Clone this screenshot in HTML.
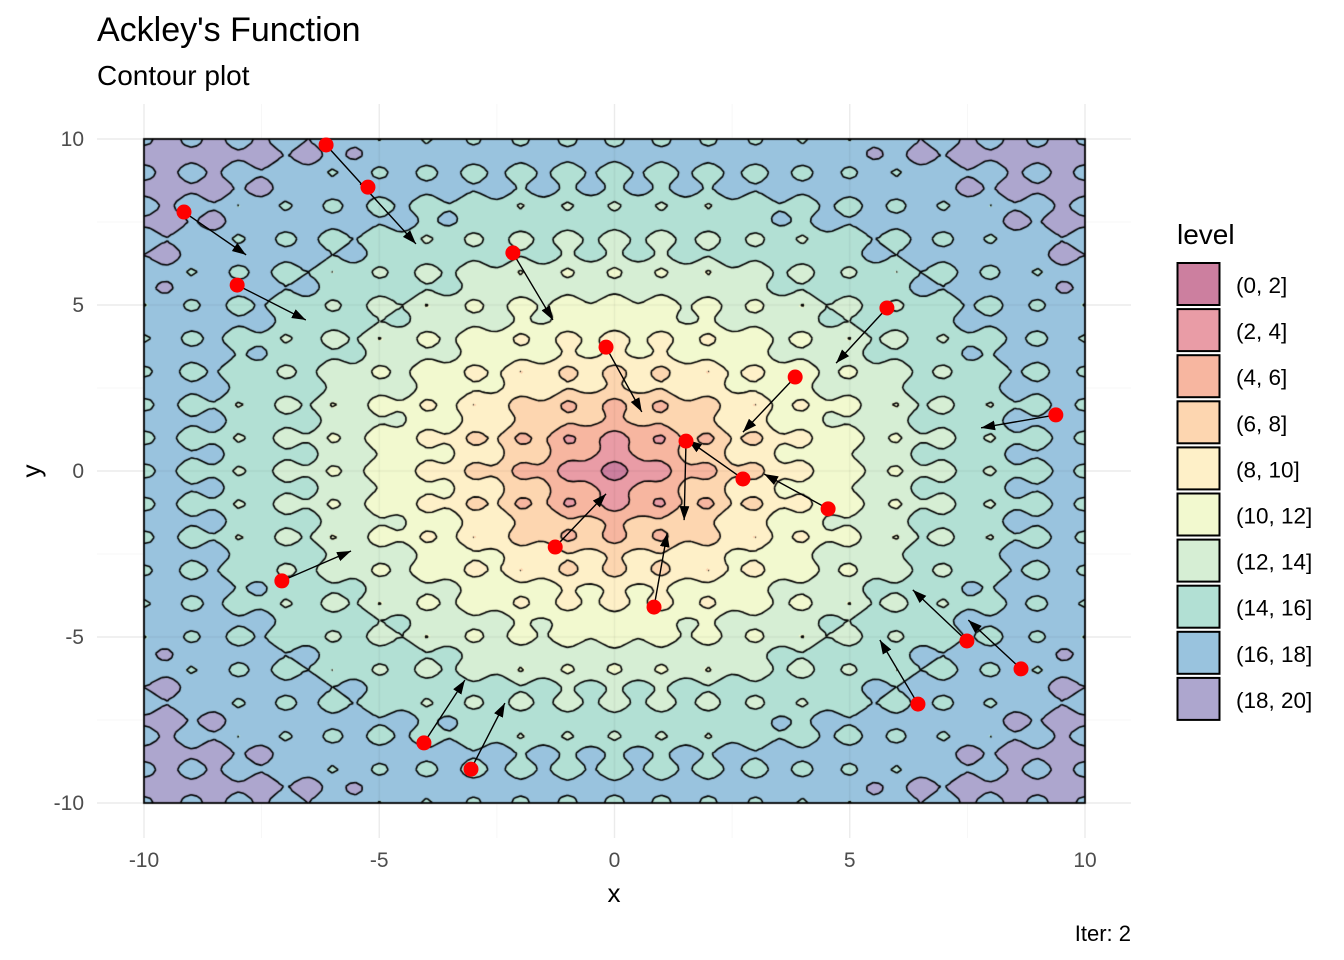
<!DOCTYPE html>
<html><head><meta charset="utf-8"><style>
body{margin:0;background:#fff;width:1344px;height:960px;overflow:hidden;position:relative;font-family:"Liberation Sans",Arial,sans-serif}
canvas,svg{position:absolute;left:0;top:0}
</style></head><body>
<svg id="bg" width="1344" height="960"></svg>
<canvas id="cv" width="1344" height="960"></canvas>
<svg id="fg" width="1344" height="960">
<defs><marker id="ah" viewBox="0 0 10 10" refX="10" refY="5" markerWidth="14" markerHeight="14" markerUnits="userSpaceOnUse" orient="auto"><path d="M0,1.5 L10,5 L0,8.5 Z" fill="#000"/></marker></defs>
<text x="97" y="41" font-size="34" fill="#000">Ackley's Function</text>
<text x="97" y="85" font-size="28" fill="#000">Contour plot</text>
<text x="614" y="902" font-size="26" text-anchor="middle" fill="#000">x</text>
<text x="40" y="471" font-size="26" text-anchor="middle" fill="#000" transform="rotate(-90 40 471)">y</text>
<text x="1131" y="941" font-size="22" text-anchor="end" fill="#000">Iter: 2</text>
<text x="1177" y="244" font-size="28" fill="#000">level</text>
<g id="legend"></g>
<g id="ticks"></g>
<g id="arrows"></g>
<g id="pts"></g>
</svg>
<script>
const levels=["(0, 2]","(2, 4]","(4, 6]","(6, 8]","(8, 10]","(10, 12]","(12, 14]","(14, 16]","(16, 18]","(18, 20]"];
const colors=["#cc7f9f","#e99ca6","#f7b6a0","#fdd6b0","#fef0c8","#f2f9cf","#d6eed4","#b2e0d4","#99c3de","#ada6ce"];
const xTicks=[-10,-5,0,5,10];
const yTicks=[-10,-5,0,5,10];
const ptX=[-9.15,-6.13,-5.24,-8.02,-2.16,-0.18,3.84,5.79,9.38,2.73,1.52,4.54,-1.26,-7.07,0.84,-4.05,-3.05,6.45,7.49,8.64];
const ptY=[7.80,9.82,8.55,5.60,6.57,3.73,2.83,4.91,1.69,-0.24,0.90,-1.14,-2.29,-3.31,-4.10,-8.19,-8.98,-7.02,-5.12,-5.96];
const toX=[-7.83,-4.22,-5.41,-6.56,-1.31,0.58,2.73,4.71,7.79,1.56,1.48,3.18,-0.18,-5.60,1.12,-3.18,-2.33,5.64,6.34,7.52];
const toY=[6.51,6.84,8.64,4.55,4.55,1.78,1.17,3.25,1.30,0.93,-1.48,-0.09,-0.69,-2.41,-1.87,-6.30,-6.99,-5.09,-3.58,-4.49];

const X0=144,X1=1085,Y0=803,Y1=139;
const sx=v=>X0+(v+10)/20*(X1-X0);
const sy=v=>Y0-(v+10)/20*(Y0-Y1);
const NS="http://www.w3.org/2000/svg";
function mk(tag,attrs,parent){const e=document.createElementNS(NS,tag);for(const k in attrs)e.setAttribute(k,attrs[k]);parent.appendChild(e);return e;}
const ack=(x,y)=>-20*Math.exp(-0.2*Math.sqrt(0.5*(x*x+y*y)))-Math.exp(0.5*(Math.cos(2*Math.PI*x)+Math.cos(2*Math.PI*y)))+Math.E+20;

const bg=document.getElementById('bg');
for(let v=-10;v<=10;v+=2.5){
  const gx=mk('line',{x1:sx(v),x2:sx(v),y1:104,y2:838,stroke:xTicks.includes(v)?'#ebebeb':'#f5f5f5','stroke-width':xTicks.includes(v)?1.4:0.8},bg);
  
  
  const gy=mk('line',{x1:97,x2:1131,y1:sy(v),y2:sy(v),stroke:yTicks.includes(v)?'#ebebeb':'#f5f5f5','stroke-width':yTicks.includes(v)?1.4:0.8},bg);
  
  
}

const cv=document.getElementById('cv'),ctx=cv.getContext('2d');
const W=X1-X0,H=Y0-Y1;
const img=ctx.createImageData(W,H);
const rgb=colors.map(c=>[parseInt(c.slice(1,3),16),parseInt(c.slice(3,5),16),parseInt(c.slice(5,7),16)]);
for(let j=0;j<H;j++){const y=10-(j+0.5)/H*20;for(let i=0;i<W;i++){const x=-10+(i+0.5)/W*20;let b=Math.floor(ack(x,y)/2);if(b<0)b=0;if(b>9)b=9;const c=rgb[b],k=(j*W+i)*4;img.data[k]=c[0];img.data[k+1]=c[1];img.data[k+2]=c[2];img.data[k+3]=255;}}
ctx.putImageData(img,X0,Y1);
ctx.strokeStyle='rgba(0,0,0,0.05)';ctx.lineWidth=1.4;
for(const v of [-5,0,5]){ctx.beginPath();ctx.moveTo(sx(v),Y1);ctx.lineTo(sx(v),Y0);ctx.stroke();ctx.beginPath();ctx.moveTo(X0,sy(v));ctx.lineTo(X1,sy(v));ctx.stroke();}
const N=161,G=[];
for(let j=0;j<N;j++){G.push([]);for(let i=0;i<N;i++)G[j].push(ack(-10+i*20/(N-1),-10+j*20/(N-1)));}
const gx=i=>sx(-10+i*20/(N-1)),gy=j=>sy(-10+j*20/(N-1));
ctx.strokeStyle='#000';ctx.lineWidth=1.6;ctx.beginPath();
for(let L=2;L<=18;L+=2){
  for(let j=0;j<N-1;j++)for(let i=0;i<N-1;i++){
    const a=G[j][i],b=G[j][i+1],c=G[j+1][i+1],d=G[j+1][i];
    const P=[];
    const e=(v1,v2,x1,y1,x2,y2)=>{if((v1<L)!==(v2<L)){const t=(L-v1)/(v2-v1);P.push([x1+(x2-x1)*t,y1+(y2-y1)*t]);}};
    e(a,b,gx(i),gy(j),gx(i+1),gy(j));
    e(b,c,gx(i+1),gy(j),gx(i+1),gy(j+1));
    e(c,d,gx(i+1),gy(j+1),gx(i),gy(j+1));
    e(d,a,gx(i),gy(j+1),gx(i),gy(j));
    for(let k=0;k+1<P.length;k+=2){ctx.moveTo(P[k][0],P[k][1]);ctx.lineTo(P[k+1][0],P[k+1][1]);}
  }
}
ctx.stroke();
ctx.lineWidth=1.8;ctx.strokeRect(X0,Y1,W,H);

const tk=document.getElementById('ticks');
xTicks.forEach(v=>{const t=mk('text',{x:sx(v),y:867,'font-size':21,'text-anchor':'middle',fill:'#4d4d4d'},tk);t.textContent=v;
  
  });
yTicks.forEach(v=>{const t=mk('text',{x:84,y:sy(v)+7,'font-size':21,'text-anchor':'end',fill:'#4d4d4d'},tk);t.textContent=v;
  
  });

const lg=document.getElementById('legend');
levels.forEach((l,i)=>{const y=263+i*46.1;
  const r=mk('rect',{x:1177.5,y:y,width:42,height:42,fill:colors[i],stroke:'#000','stroke-width':2},lg);
  
  
  const t=mk('text',{x:1236,y:y+30,'font-size':22.5,fill:'#000'},lg);t.textContent=l;
  
  });

const ar=document.getElementById('arrows'),pg=document.getElementById('pts');
ptX.forEach((x,i)=>{
  const a=mk('line',{x1:sx(x),y1:sy(ptY[i]),x2:sx(toX[i]),y2:sy(toY[i]),stroke:'#000','stroke-width':1.4,'marker-end':'url(#ah)'},ar);
  
  
});
ptX.forEach((x,i)=>{
  const c=mk('circle',{cx:sx(x),cy:sy(ptY[i]),r:7.5,fill:'#ff0000'},pg);
  
  
});
</script>
</body></html>
